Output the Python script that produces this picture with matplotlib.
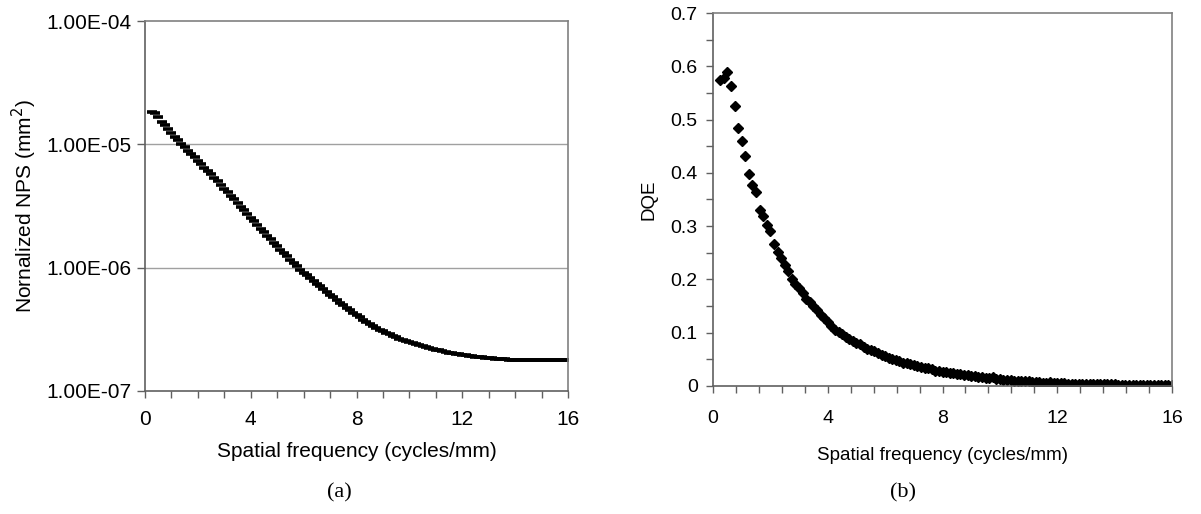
import matplotlib
matplotlib.use("Agg")
import matplotlib.pyplot as plt
import matplotlib.ticker as mticker
import numpy as np

# spatial frequency grid (cycles/mm), same for both curves
freq = [
    0.25, 0.375, 0.5, 0.625, 0.75, 0.875, 1.0, 1.125, 1.25, 1.375, 1.5, 1.625, 1.75, 1.875,
    2.0, 2.125, 2.25, 2.375, 2.5, 2.625, 2.75, 2.875, 3.0, 3.125, 3.25, 3.375, 3.5, 3.625,
    3.75, 3.875, 4.0, 4.125, 4.25, 4.375, 4.5, 4.625, 4.75, 4.875, 5.0, 5.125, 5.25, 5.375,
    5.5, 5.625, 5.75, 5.875, 6.0, 6.125, 6.25, 6.375, 6.5, 6.625, 6.75, 6.875, 7.0, 7.125,
    7.25, 7.375, 7.5, 7.625, 7.75, 7.875, 8.0, 8.125, 8.25, 8.375, 8.5, 8.625, 8.75, 8.875,
    9.0, 9.125, 9.25, 9.375, 9.5, 9.625, 9.75, 9.875, 10.0, 10.125, 10.25, 10.375, 10.5,
    10.625, 10.75, 10.875, 11.0, 11.125, 11.25, 11.375, 11.5, 11.625, 11.75, 11.875, 12.0,
    12.125, 12.25, 12.375, 12.5, 12.625, 12.75, 12.875, 13.0, 13.125, 13.25, 13.375, 13.5,
    13.625, 13.75, 13.875, 14.0, 14.125, 14.25, 14.375, 14.5, 14.625, 14.75, 14.875, 15.0,
    15.125, 15.25, 15.375, 15.5, 15.625, 15.75, 15.875, 16.0,
]

# normalized NPS, read as log10(mm^2)
nps_log10 = [
    -4.735, -4.743, -4.775, -4.815, -4.845, -4.878, -4.908, -4.937, -4.965, -4.995, -5.024,
    -5.053, -5.080, -5.106, -5.132, -5.160, -5.188, -5.216, -5.243, -5.272, -5.300, -5.330,
    -5.360, -5.390, -5.418, -5.447, -5.476, -5.505, -5.535, -5.565, -5.595, -5.625, -5.655,
    -5.685, -5.712, -5.740, -5.768, -5.796, -5.825, -5.853, -5.880, -5.908, -5.935, -5.962,
    -5.990, -6.015, -6.040, -6.063, -6.086, -6.108, -6.130, -6.152, -6.174, -6.196, -6.218,
    -6.240, -6.262, -6.283, -6.304, -6.325, -6.345, -6.365, -6.385, -6.404, -6.422, -6.440,
    -6.457, -6.473, -6.488, -6.502, -6.516, -6.529, -6.541, -6.553, -6.564, -6.575, -6.585,
    -6.595, -6.604, -6.613, -6.622, -6.630, -6.638, -6.645, -6.652, -6.659, -6.665, -6.671,
    -6.677, -6.683, -6.689, -6.694, -6.699, -6.704, -6.708, -6.712, -6.716, -6.719, -6.722,
    -6.725, -6.728, -6.731, -6.734, -6.736, -6.738, -6.740, -6.742, -6.744, -6.746, -6.748,
    -6.750, -6.750, -6.750, -6.750, -6.750, -6.750, -6.750, -6.750, -6.750, -6.750, -6.750,
    -6.750, -6.750, -6.750, -6.750, -6.750, -6.750,
]

dqe = [
    0.574, 0.578, 0.589, 0.563, 0.525, 0.485, 0.459, 0.431, 0.397, 0.377, 0.364, 0.330,
    0.319, 0.303, 0.290, 0.267, 0.252, 0.240, 0.227, 0.215, 0.200, 0.192, 0.183, 0.174,
    0.164, 0.158, 0.150, 0.142, 0.134, 0.127, 0.120, 0.113, 0.106, 0.101, 0.097, 0.092,
    0.088, 0.084, 0.081, 0.078, 0.074, 0.070, 0.067, 0.065, 0.062, 0.058, 0.056, 0.053,
    0.051, 0.049, 0.046, 0.044, 0.043, 0.041, 0.039, 0.037, 0.036, 0.034, 0.033, 0.031,
    0.029, 0.028, 0.027, 0.026, 0.025, 0.024, 0.023, 0.022, 0.021, 0.020, 0.019, 0.018,
    0.017, 0.016, 0.015, 0.015, 0.016, 0.014, 0.013, 0.012, 0.011, 0.011, 0.010, 0.009,
    0.009, 0.010, 0.009, 0.008, 0.007, 0.007, 0.006, 0.006, 0.007, 0.006, 0.006, 0.005,
    0.006, 0.004, 0.004, 0.004, 0.004, 0.004, 0.004, 0.003, 0.004, 0.003, 0.004, 0.003,
    0.003, 0.004, 0.003, 0.002, 0.001, 0.001, 0.001, 0.002, 0.001, 0.001, 0.001, 0.001,
    0.002, 0.001, 0.001, 0.001, 0.002, 0.001, 0.001,
]

x_ticks = [0, 4, 8, 12, 16]
nps_ticks = [1e-7, 1e-6, 1e-5, 1e-4]
nps_tick_labels = ["1.00E-07", "1.00E-06", "1.00E-05", "1.00E-04"]
dqe_ticks = [0, 0.1, 0.2, 0.3, 0.4, 0.5, 0.6, 0.7]
dqe_tick_labels = ["0", "0.1", "0.2", "0.3", "0.4", "0.5", "0.6", "0.7"]

plt.rcParams["font.family"] = ["Liberation Sans", "DejaVu Sans"]

W, H = 1201, 514
fig = plt.figure(figsize=(W / 100, H / 100), dpi=100)

frame = "#808080"
tickc = "#606060"


def style_frame(ax):
    for s in ax.spines.values():
        s.set_color(frame)
        s.set_linewidth(1.2)
    ax.spines["left"].set_color(tickc)
    ax.spines["bottom"].set_color(tickc)
    ax.tick_params(which="both", direction="out", length=5, width=1, color=tickc)


# === (a) NPS ===
ax1 = fig.add_axes([145 / W, 1 - 391 / H, 423 / W, 370 / H])
ax1.plot(freq, 10 ** np.array(nps_log10), linestyle="none", marker="_",
         markersize=6.5, markeredgewidth=2.6, color="black")
ax1.set_yscale("log")
ax1.set_xlim(0, 16)
ax1.set_ylim(1e-7, 1e-4)
ax1.set_yticks(nps_ticks)
ax1.set_yticklabels(nps_tick_labels)
ax1.yaxis.set_minor_locator(mticker.NullLocator())
ax1.set_xticks(x_ticks)
ax1.xaxis.set_minor_locator(mticker.MultipleLocator(1))
for v in [1e-6, 1e-5]:
    ax1.axhline(v, color="#a0a0a0", lw=1, zorder=0)
style_frame(ax1)
ax1.tick_params(axis="y", labelsize=15, pad=4, length=6)
ax1.tick_params(axis="x", labelsize=15, pad=9)
ax1.set_xlabel("Spatial frequency (cycles/mm)", fontsize=15, labelpad=9)
ax1.set_ylabel("Nornalized NPS (mm$^2$)", fontsize=15, labelpad=5)

# === (b) DQE ===
ax2 = fig.add_axes([713 / W, 1 - 386 / H, 459 / W, 373 / H])
ax2.plot(freq, dqe, linestyle="none", marker="D", markersize=4.8, color="black")
ax2.set_xlim(0, 16)
ax2.set_ylim(0, 0.7)
ax2.set_xticks(x_ticks)
ax2.xaxis.set_minor_locator(mticker.MultipleLocator(0.8))
ax2.set_yticks(dqe_ticks)
ax2.set_yticklabels(dqe_tick_labels)
ax2.yaxis.set_minor_locator(mticker.MultipleLocator(0.05))
style_frame(ax2)
ax2.tick_params(axis="y", labelsize=14, pad=6)
ax2.tick_params(axis="x", labelsize=14, pad=12)
ax2.set_xlabel("Spatial frequency (cycles/mm)", fontsize=13.5, labelpad=15)
ax2.set_ylabel("DQE", fontsize=13.5, labelpad=9)

fig.text(339 / W, 1 - 493 / H, "(a)", ha="center", va="center",
         fontsize=16, family="Liberation Serif")
fig.text(903 / W, 1 - 493 / H, "(b)", ha="center", va="center",
         fontsize=16, family="Liberation Serif")

fig.savefig("out.png", dpi=100)
